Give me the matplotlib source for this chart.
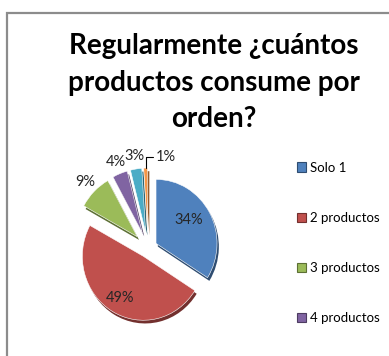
import numpy as np
import matplotlib.pyplot as plt
from matplotlib import colors
from matplotlib.patches import Rectangle

# Survey answers: how many products per order
categorias = ['Solo 1', '2 productos', '3 productos', '4 productos',
              '5 productos', 'Más de 5']
porcentajes = [34, 49, 9, 4, 3, 1]
colores = ['#4F81BD', '#C0504D', '#9BBB59', '#8064A2', '#4BACC6', '#F79646']
separacion = [0.15, 0.15, 0.25, 0.25, 0.25, 0.25]
titulo = 'Regularmente ¿cuántos\nproductos consume por\norden?'

plt.rcParams['font.family'] = ['Lato', 'DejaVu Sans']

W, H = 389, 356
fig = plt.figure(figsize=(W / 100, H / 100), dpi=100)

# chart frame (only top and left edges fall inside the image)
fig.add_artist(Rectangle((7 / W, -0.1), 1.2, (H - 13) / H + 0.1,
                         transform=fig.transFigure, fill=False,
                         edgecolor='#8c8c8c', linewidth=1.6))

fig.text(214 / W, 1 - 33 / H, titulo, ha='center', va='top',
         fontsize=20, fontweight='bold', linespacing=1.5)

# pie axes, slightly squeezed sideways for the tilted look
RX, RY = 61, 64
ax = fig.add_axes([50 / W, 1 - 350 / H, 200 / W, 200 / H])

# darker copy underneath gives the slices a bit of depth
oscuros = [tuple(c * 0.6 for c in colors.to_rgb(col)) for col in colores]
ax.pie(porcentajes, colors=oscuros, explode=separacion, startangle=90,
       counterclock=False, center=(0.03, -0.05),
       wedgeprops=dict(linewidth=0))
wedges, _ = ax.pie(porcentajes, colors=colores, explode=separacion,
                   startangle=90, counterclock=False,
                   wedgeprops=dict(linewidth=0.4, edgecolor='white'))
ax.set_xlim(-98 / RX, 102 / RX)
ax.set_ylim(-102 / RY, 98 / RY)
ax.set_aspect('auto')
ax.set_axis_off()

r_dentro = {34: 0.62, 49: 0.76}
for i, w in enumerate(wedges):
    ang = np.deg2rad((w.theta1 + w.theta2) / 2)
    cx, cy = w.center
    texto = f'{porcentajes[i]}%'
    if porcentajes[i] in r_dentro:
        r = r_dentro[porcentajes[i]]
        dy = 0.07 if np.sin(ang) > 0 else 0.0
        ax.text(cx + r * np.cos(ang), cy + r * np.sin(ang) + dy, texto,
                ha='center', va='center', fontsize=10.5, color='#262626')
    elif i == len(wedges) - 1:
        # smallest slice: label pulled aside with a leader line
        x0, y0 = cx + 1.0 * np.cos(ang), cy + 1.0 * np.sin(ang)
        ax.annotate(texto, xy=(x0, y0), xytext=(x0 + 0.17, y0 + 0.18),
                    ha='left', va='center', fontsize=10.5, color='#262626',
                    arrowprops=dict(arrowstyle='-', color='black', lw=0.8,
                                    shrinkA=0, shrinkB=0,
                                    connectionstyle='angle,angleA=0,angleB=90,rad=0'))
    else:
        r = 1.2
        ax.text(cx + r * np.cos(ang), cy + r * np.sin(ang), texto,
                ha='center', va='center', fontsize=10.5, color='#262626')

leg = fig.legend(wedges[:4], categorias[:4], loc='upper left',
                 bbox_to_anchor=(290 / W, 1 - 155 / H), frameon=False,
                 fontsize=9.5, handlelength=0.7, handleheight=0.7,
                 handletextpad=0.3, labelspacing=2.9, borderpad=0)
for h, col in zip(leg.legend_handles, colores):
    h.set_edgecolor(tuple(c * 0.6 for c in colors.to_rgb(col)))
    h.set_linewidth(0.8)

fig.savefig('out.png', dpi=100)
